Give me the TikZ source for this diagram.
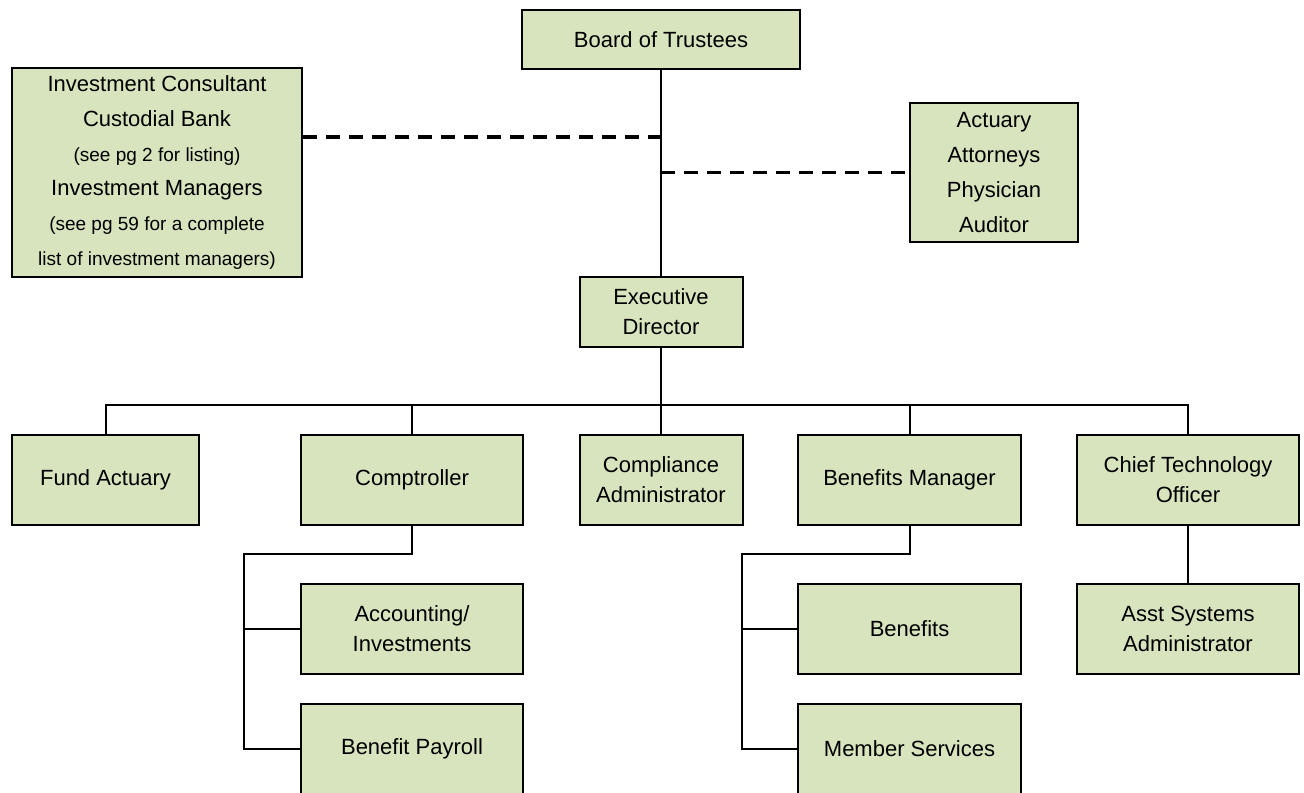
\documentclass[tikz,border=0pt]{standalone}
\usepackage{fontspec}
\setmainfont{Liberation Sans}
\definecolor{boxgreen}{RGB}{216,228,189}
\tikzset{
  orgbox/.style={draw=black, line width=1pt, fill=boxgreen, inner sep=0pt,
    align=center, font=\fontsize{11}{15}\selectfont},
  tallbox/.style={orgbox, font=\fontsize{11}{17.35}\selectfont},
  link/.style={draw=black, line width=1pt},
  dashlink/.style={draw=black, line width=1.6pt, dash pattern=on 7pt off 4.5pt},
  rowbox/.style={orgbox, minimum height=45pt}
}
\newcommand{\smalltxt}[1]{{\fontsize{9.5}{17.35}\selectfont #1}}
\begin{document}
\begin{tikzpicture}[x=0.5pt,y=-0.5pt]
\path[use as bounding box, fill=white] (0,0) rectangle (1304,792);

\node[orgbox, minimum width=139pt, minimum height=29.5pt] (board) at (661,39.5) {Board of Trustees};
\node[tallbox, minimum width=145pt, minimum height=104.5pt] (invest) at (157,172.5)
  {Investment Consultant\\Custodial Bank\\\smalltxt{(see pg 2 for listing)}\\Investment Managers\\\smalltxt{(see pg 59 for a complete}\\\smalltxt{list of investment managers)}};
\node[tallbox, minimum width=84pt, minimum height=69.5pt] (actuary) at (994,172.5)
  {Actuary\\Attorneys\\Physician\\Auditor};
\node[orgbox, minimum width=81.5pt, minimum height=35pt] (exec) at (661,312) {Executive\\Director};

\node[rowbox, minimum width=93.5pt] (fund) at (105.5,480) {Fund Actuary};
\node[rowbox, minimum width=111pt] (comp) at (412,480) {Comptroller};
\node[rowbox, minimum width=81.5pt] (compl) at (661,480) {Compliance\\Administrator};
\node[rowbox, minimum width=111.5pt] (benm) at (909.5,480) {Benefits Manager};
\node[rowbox, minimum width=111pt] (cto) at (1188,480) {Chief Technology\\Officer};

\node[rowbox, minimum width=111pt] (acct) at (412,629) {Accounting/\\Investments};
\node[rowbox, minimum width=111pt] (payroll) at (412,749) {Benefit Payroll};
\node[rowbox, minimum width=111.5pt] (benefits) at (909.5,629) {Benefits};
\node[rowbox, minimum width=111.5pt] (members) at (909.5,749) {Member Services};
\node[rowbox, minimum width=111pt] (asst) at (1188,629) {Asst Systems\\Administrator};

% trunk
\draw[link] (board.south) -- (exec.north);
\coordinate (d1) at (661,137);
\coordinate (d2) at (661,172.5);
\draw[dashlink] (invest.east |- d1) -- (d1);
\draw[dashlink] (d2) -- (actuary.west);

% bar
\coordinate (bar) at (661,405);
\draw[link] (exec.south) -- (compl.north);
\draw[link] (fund.north) |- (bar) -| (cto.north);
\draw[link] (comp.north) -- (comp.north |- bar);
\draw[link] (benm.north) -- (benm.north |- bar);

% comptroller subtree
\coordinate (cs) at (244,554);
\draw[link] (comp.south) |- (cs) |- (payroll.west);
\draw[link] (cs |- acct.west) -- (acct.west);

% benefits subtree
\coordinate (bs) at (742,554);
\draw[link] (benm.south) |- (bs) |- (members.west);
\draw[link] (bs |- benefits.west) -- (benefits.west);

% cto
\draw[link] (cto.south) -- (asst.north);
\end{tikzpicture}
\end{document}
